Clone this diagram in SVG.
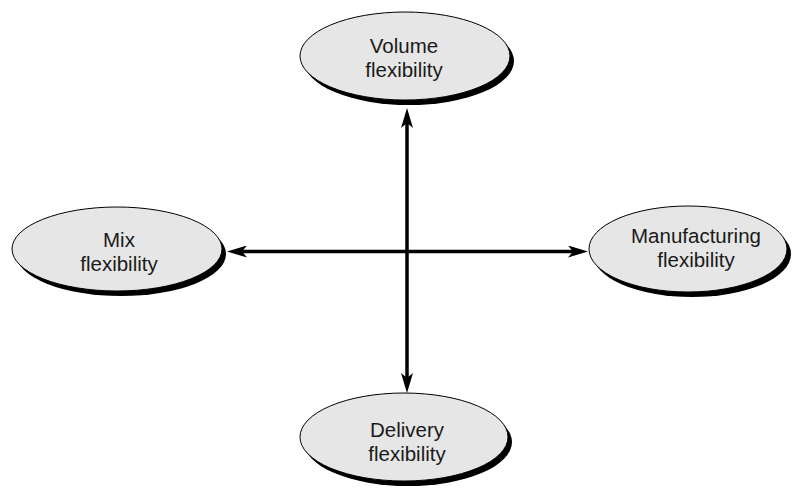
<svg xmlns="http://www.w3.org/2000/svg" width="792" height="489" viewBox="0 0 792 489">
<style>
.shadow{fill:#000}
.ell{fill:#e6e6e6;stroke:#000;stroke-width:1}
.lbl{font-family:"Liberation Sans",Arial,sans-serif;font-size:20.5px;fill:#1a1a1a;text-anchor:middle}
.conn{stroke:#000;stroke-width:3.5;fill:none}
</style>
<defs>
<marker id="ah" viewBox="0 0 20 12" refX="10" refY="6" markerWidth="20" markerHeight="12" markerUnits="userSpaceOnUse" orient="auto-start-reverse">
<path d="M0,0 L20,6 L0,12 L5,6 Z" fill="#000"/>
</marker>
</defs>
<rect width="792" height="489" fill="#fff"/>
<g id="connectors">
<line class="conn" x1="237" y1="251.5" x2="578" y2="251.5" marker-start="url(#ah)" marker-end="url(#ah)"/>
<line class="conn" x1="407" y1="118" x2="407" y2="383" marker-start="url(#ah)" marker-end="url(#ah)"/>
</g>
<g id="volume">
<ellipse class="shadow" cx="409" cy="61" rx="105" ry="44"/>
<ellipse class="ell" cx="405" cy="56" rx="105" ry="44"/>
<text class="lbl" x="404" y="53">Volume</text>
<text class="lbl" x="404" y="77">flexibility</text>
</g>
<g id="mix">
<ellipse class="shadow" cx="121" cy="254" rx="105" ry="42"/>
<ellipse class="ell" cx="117" cy="249" rx="105" ry="42"/>
<text class="lbl" x="119" y="247">Mix</text>
<text class="lbl" x="119" y="271">flexibility</text>
</g>
<g id="manufacturing">
<ellipse class="shadow" cx="692" cy="254" rx="99" ry="43"/>
<ellipse class="ell" cx="688" cy="249" rx="99" ry="43"/>
<text class="lbl" x="696" y="243">Manufacturing</text>
<text class="lbl" x="696" y="267">flexibility</text>
</g>
<g id="delivery">
<ellipse class="shadow" cx="408" cy="442" rx="104" ry="44"/>
<ellipse class="ell" cx="404" cy="437" rx="104" ry="44"/>
<text class="lbl" x="407" y="437">Delivery</text>
<text class="lbl" x="407" y="461">flexibility</text>
</g>
</svg>
